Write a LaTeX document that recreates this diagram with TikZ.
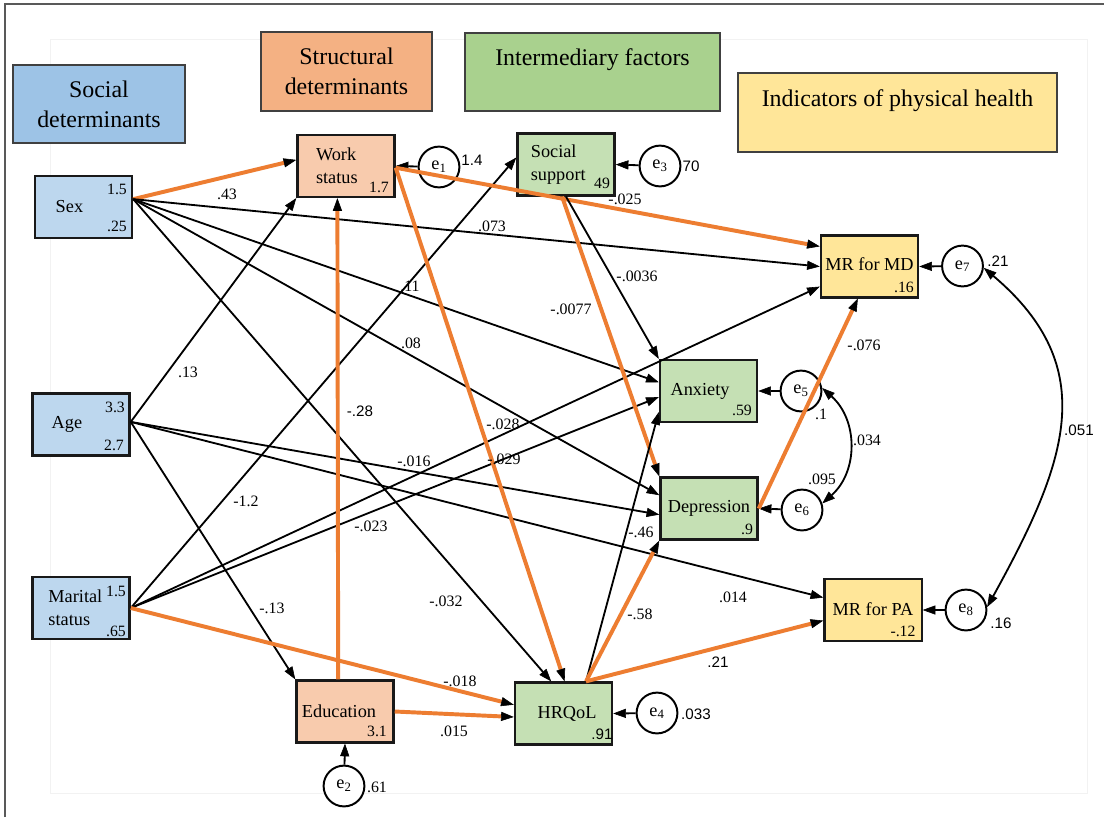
\documentclass[tikz,border=0pt]{standalone}
\usepackage{fontspec}
\setmainfont{Liberation Serif}
\setsansfont{Liberation Sans}
\usetikzlibrary{arrows.meta}

% Colours of the four groups and of the significant paths
\definecolor{socblue}{HTML}{9DC3E6}
\definecolor{socbluelt}{HTML}{BDD7EE}
\definecolor{strorange}{HTML}{F4B183}
\definecolor{strorangelt}{HTML}{F8CBAD}
\definecolor{intgreen}{HTML}{A9D18E}
\definecolor{intgreenlt}{HTML}{C5E0B4}
\definecolor{indyellow}{HTML}{FFE699}
\definecolor{pathorange}{HTML}{ED7D31}

\tikzset{
  header/.style={draw=black!75, line width=0.8pt, inner sep=0pt, align=center,
    font=\fontsize{17}{21.3}\selectfont},
  varbox/.style={draw=black!90, line width=1.6pt, inner sep=0pt, align=left,
    minimum width=2.43cm, minimum height=1.55cm, font=\fontsize{13}{16.3}\selectfont},
  errcirc/.style={circle, draw, fill=white, line width=1.4pt, inner sep=0pt,
    minimum size=1.02cm, font=\fontsize{13}{15}\selectfont},
  coef/.style={inner sep=0pt, font=\fontsize{11.3}{13}\selectfont},
  coefsf/.style={inner sep=0pt, font=\sffamily\fontsize{10.8}{13}\selectfont},
  corner/.style={inner sep=0pt, font=\fontsize{11.2}{12}\selectfont},
  blk/.style={draw=black, line width=1.3pt,
    -{Triangle[length=9pt,width=6.5pt,line width=0.4pt,color=black]}},
  org/.style={blk, draw=pathorange, line width=2.8pt},
  cov/.style={draw=black, line width=1.3pt,
    {Triangle[length=9pt,width=6.5pt,line width=0.4pt]}-{Triangle[length=9pt,width=6.5pt,line width=0.4pt]}}
}

\begin{document}
\begin{tikzpicture}[x=0.025cm, y=-0.025cm]

    % Page and frame
    \useasboundingbox (0,0) rectangle (1104,817);
    \fill[white] (0,0) rectangle (1104,817);
    \draw[black!65, line width=1pt] (5,817) -- (5,4) -- (1104,4);
    \draw[black!5, line width=0.6pt] (50,39) rectangle (1087,793);

    % Group headers
    \node[header, fill=socblue, minimum width=4.3cm, minimum height=1.95cm] (socdet) at (99,104) {Social\\determinants};
    \node[header, fill=strorange, minimum width=4.275cm, minimum height=1.975cm] (strdet) at (346.5,71.5) {Structural\\determinants};
    \node[header, fill=intgreen, minimum width=6.375cm, minimum height=1.95cm] (intfac) at (592.5,72) {Intermediary factors\\[-7pt]\strut};
    \node[header, fill=indyellow, minimum width=7.975cm, minimum height=1.975cm] (indph) at (897.5,112.5) {Indicators of physical health\\[-7pt]\strut};

    % Social determinants
    \node[varbox, fill=socbluelt] (sex) at (83.5,207) {Sex\hspace*{20pt}};
    \node[varbox, fill=socbluelt] (age) at (81,424.5) {Age\hspace*{20pt}};
    \node[varbox, fill=socbluelt] (marital) at (81,608) {Marital\hspace*{8pt}\\status};

    % Structural determinants
    \node[varbox, fill=strorangelt] (work) at (346,166) {Work\\status\hspace*{13pt}};
    \node[varbox, fill=strorangelt] (educ) at (345,711.5) {Education\hspace*{8.5pt}};

    % Intermediary factors
    \node[varbox, fill=intgreenlt] (social) at (566,164.5) {Social\\support\hspace*{11pt}};
    \node[varbox, fill=intgreenlt] (anx) at (708.5,391) {Anxiety\hspace*{12pt}};
    \node[varbox, fill=intgreenlt] (dep) at (709,508.5) {Depression};
    \node[varbox, fill=intgreenlt] (hrqol) at (563.5,713.5) {\hspace*{5pt}HRQoL};

    % Indicators of physical health
    \node[varbox, fill=indyellow] (mrmd) at (869.5,266.5) {\raisebox{3pt}{MR for MD}};
    \node[varbox, fill=indyellow] (mrpa) at (873,610) {\raisebox{2pt}{MR for PA}};

    % Values in the corners of the boxes
    \node[corner] (sexa) at (117,189) {1.5};
    \node[corner] (sexb) at (117,226) {.25};
    \node[corner] (agea) at (115,407) {3.3};
    \node[corner] (ageb) at (114,445) {2.7};
    \node[corner] (mara) at (116,591) {1.5};
    \node[corner] (marb) at (116,631) {.65};
    \node[corner] (worka) at (379,187) {1.7};
    \node[corner] (educa) at (377,731) {3.1};
    \node[corner] (sociala) at (602,183) {49};
    \node[corner] (anxa) at (742,410) {.59};
    \node[corner] (depa) at (747,529) {.9};
    \node[coefsf] (hrqola) at (602,734) {.91};
    \node[corner] (mrmda) at (904,287) {.16};
    \node[corner] (mrpaa) at (903,631) {-.12};

    % Error terms
    \node[errcirc] (e1) at (439,167) {e\textsubscript{1}};
    \node[errcirc] (e2) at (344,786) {e\textsubscript{2}};
    \node[errcirc] (e3) at (660,166) {e\textsubscript{3}};
    \node[errcirc] (e4) at (657,713) {e\textsubscript{4}};
    \node[errcirc] (e5) at (801,391) {e\textsubscript{5}};
    \node[errcirc] (e6) at (802,510) {e\textsubscript{6}};
    \node[errcirc] (e7) at (962.5,266) {e\textsubscript{7}};
    \node[errcirc] (e8) at (966,610) {e\textsubscript{8}};

    \node[coefsf] (v1) at (472,160) {1.4};
    \node[coef] (v2) at (377,787) {.61};
    \node[coefsf] (v3) at (691,166) {70};
    \node[coefsf] (v4) at (696,714) {.033};
    \node[coef] (v5) at (821,414) {.1};
    \node[coef] (v6) at (822,479) {.095};
    \node[coefsf] (v7) at (998,261) {.21};
    \node[coefsf] (v8) at (1001,623) {.16};

    % Error arrows
    \draw[blk] (e1) -- (work.east);
    \draw[blk] (e2) -- (educ.south);
    \draw[blk] (e3) -- (social.east);
    \draw[blk] (e4) -- (hrqol.east);
    \draw[blk] (e5) -- (anx.east);
    \draw[blk] (e6) -- (dep.east);
    \draw[blk] (e7) -- (mrmd.east);
    \draw[blk] (e8) -- (mrpa.east);

    % Covariances between error terms
    \draw[cov] (e5.8) .. controls +(36,32) and +(36,-32) .. (e6.18);
    \draw[cov] (e7.-5) .. controls +(118,100) and +(80,-145) .. (e8.8);
    \node[coef] (c56) at (867,440) {.034};
    \node[coefsf] (c78) at (1079,430) {.051};

    % Paths from sex
    \draw[org] (sex.9) -- (work.173);
    \draw[blk] (sex.9) -- (mrmd.west);
    \draw[blk] (sex.9) -- (anx.170);
    \draw[blk] (sex.9) -- (dep.165);
    \draw[blk] (sex.9) -- (hrqol.111);

    % Paths from age
    \draw[blk] (age.3) -- (work.south west);
    \draw[blk] (age.3) -- (educ.north west);
    \draw[blk] (age.3) -- (dep.187);
    \draw[blk] (age.3) -- (mrpa.166);

    % Paths from marital status
    \draw[blk] (marital.east) -- (social.172);
    \draw[blk] (marital.east) -- (mrmd.202);
    \draw[blk] (marital.east) -- (anx.187);
    \draw[org] (marital.east) -- (hrqol.170);

    % Paths from work status and education
    \draw[org] (work.358) -- (mrmd.158);
    \draw[org] (work.358) -- (hrqol.88);
    \draw[org] (educ.102) -- (work.255);
    \draw[org] (educ.east) -- (hrqol.184);

    % Paths from social support
    \draw[blk] (social.south) -- (anx.north west);
    \draw[org] (social.263) -- (dep.north west);

    % Paths from HRQoL and depression
    \draw[blk] (hrqol.55) -- (anx.203);
    \draw[org] (hrqol.55) -- (dep.south west);
    \draw[org] (hrqol.55) -- (mrpa.192);
    \draw[org] (dep.east) -- (mrmd.250);

    % Path coefficients
    \node[coef] (p1) at (227,194) {.43};
    \node[coef] (p2) at (492,226) {.073};
    \node[coef] (p3) at (625,199) {-.025};
    \node[coef] (p4) at (637,276) {-.0036};
    \node[coef] (p5) at (571,309) {-.0077};
    \node[coef] (p6) at (410,286) {.11};
    \node[coef] (p7) at (411,343) {.08};
    \node[coef] (p8) at (188,372) {.13};
    \node[coefsf] (p9) at (360,411) {-.28};
    \node[coef] (p10) at (503,424) {-.028};
    \node[coef] (p11) at (504,459) {-.029};
    \node[coef] (p12) at (414,461) {-.016};
    \node[coef] (p13) at (246,501) {-1.2};
    \node[coef] (p14) at (371,526) {-.023};
    \node[coef] (p15) at (272,608) {-.13};
    \node[coef] (p16) at (446,601) {-.032};
    \node[coef] (p17) at (641,532) {-.46};
    \node[coef] (p18) at (640,614) {-.58};
    \node[coef] (p19) at (733,597) {.014};
    \node[coefsf] (p20) at (718,662) {.21};
    \node[coef] (p21) at (460,681) {-.018};
    \node[coef] (p22) at (454,731) {.015};
    \node[coef] (p23) at (864,345) {-.076};

\end{tikzpicture}
\end{document}
